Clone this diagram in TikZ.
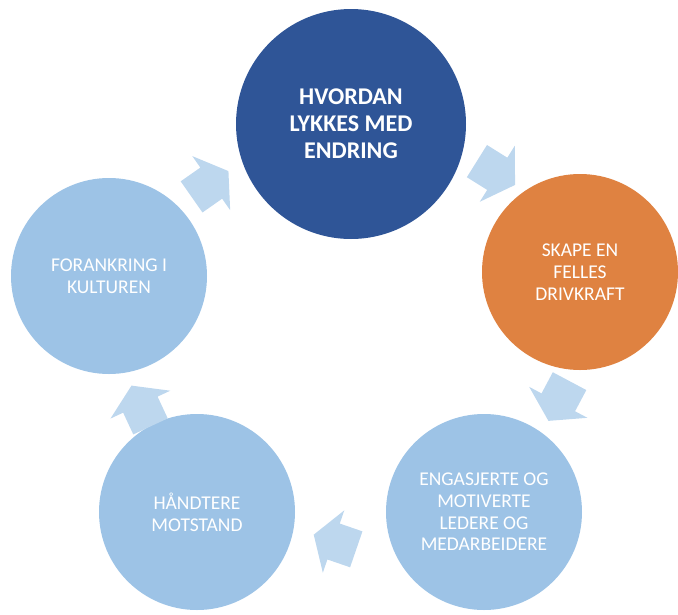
\documentclass[tikz,border=0pt]{standalone}
\usepackage{fontspec}
\setmainfont{Carlito}
\usetikzlibrary{calc}

\definecolor{darkblue}{RGB}{47,85,151}
\definecolor{orangefill}{RGB}{223,130,65}
\definecolor{lightblue}{RGB}{157,195,230}
\definecolor{arrowblue}{RGB}{189,215,238}

\begin{document}
\begin{tikzpicture}[
  x=1pt, y=1pt,
  bigstage/.style={circle, minimum size=230pt, inner sep=0pt, fill=darkblue, text=white,
                   align=center, font=\fontsize{24}{27}\selectfont\bfseries},
  stage/.style={circle, minimum size=196pt, inner sep=0pt, fill=lightblue, text=white,
                align=center, font=\fontsize{19.5}{21.7}\selectfont},
  pics/cyclearrow/.style={code={
    \fill[arrowblue] (-22.5,-19) -- (1.5,-19) -- (1.5,-33) -- (22.5,0)
                     -- (1.5,33) -- (1.5,19) -- (-22.5,19) -- cycle;}}
]
  \useasboundingbox (0,0) rectangle (678,-614);
  \node[bigstage] (n1) at (351,-124) {HVORDAN\\LYKKES MED\\ENDRING};
  \node[stage, fill=orangefill] (n2) at (580,-272) {SKAPE EN\\FELLES\\DRIVKRAFT};
  \node[stage] (n3) at (484,-512) {ENGASJERTE OG\\MOTIVERTE\\LEDERE OG\\MEDARBEIDERE};
  \node[stage] (n4) at (197,-512) {HÅNDTERE\\MOTSTAND};
  \node[stage] (n5) at (109,-276) {FORANKRING I\\KULTUREN};
  % arrows round the cycle
  \pic[rotate=35]   (a51) at ($(n5)!.5!(n1)+(-20,16)$)   {cyclearrow};
  \pic[rotate=-32]  (a12) at ($(n1)!.5!(n2)+(30.5,25)$)  {cyclearrow};
  \pic[rotate=-118] (a23) at ($(n2)!.5!(n3)+(27,-9)$)    {cyclearrow};
  \pic[rotate=161]  (a34) at ($(n3)!.5!(n4)+(-5.5,-30)$) {cyclearrow};
  \pic[rotate=115]  (a45) at ($(n4)!.5!(n5)+(-12,-12)$)  {cyclearrow};
\end{tikzpicture}
\end{document}
